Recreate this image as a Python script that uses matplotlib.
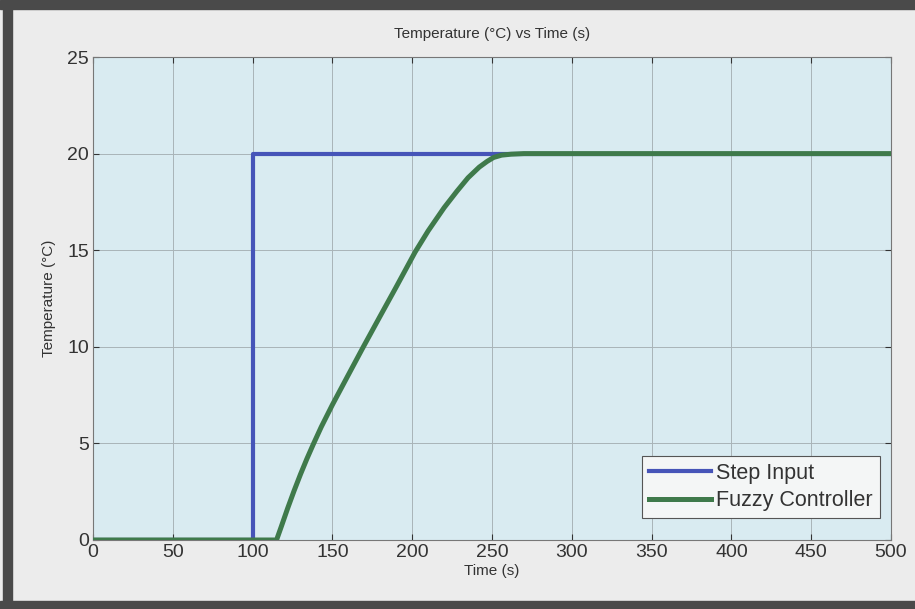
import matplotlib
matplotlib.use("Agg")
import matplotlib.pyplot as plt
from matplotlib.patches import Rectangle

# ---- data ----
step_time = [0, 100, 100, 500]
step_temp = [0, 0, 20, 20]

fuzzy_time = [0, 115, 118, 122, 126, 130, 134, 138, 143, 150, 160, 169.4, 180, 190,
              201.8, 210, 220, 228, 235, 242, 247, 251, 256, 262, 270, 280, 300, 500]
fuzzy_temp = [0, 0, 0.7, 1.65, 2.55, 3.4, 4.2, 4.95, 5.85, 7.0, 8.55, 10.0, 11.6, 13.1,
              14.9, 16.0, 17.2, 18.05, 18.75, 19.3, 19.6, 19.8, 19.92, 19.97, 20.0, 20.0, 20.0, 20.0]

x_ticks = [0, 50, 100, 150, 200, 250, 300, 350, 400, 450, 500]
y_ticks = [0, 5, 10, 15, 20, 25]

title = "Temperature (°C) vs Time (s)"
xlabel = "Time (s)"
ylabel = "Temperature (°C)"
labels = ["Step Input", "Fuzzy Controller"]

plt.rcParams['font.family'] = ['Liberation Sans', 'DejaVu Sans']

fig = plt.figure(figsize=(9.15, 6.09), dpi=100, facecolor='#ececec')
# scanned frame border
fig.patches.append(Rectangle((0, 1 - 9/609), 1, 9/609, transform=fig.transFigure,
                             color='#4a4a4a', zorder=0))
fig.patches.append(Rectangle((3/915, 0), 9/915, 1, transform=fig.transFigure,
                             color='#4a4a4a', zorder=0))
fig.patches.append(Rectangle((0, 0), 1, 8/609, transform=fig.transFigure,
                             color='#4a4a4a', zorder=0))

ax = fig.add_axes([93/915, 1 - 540/609, 798/915, 483/609])
ax.set_facecolor('#d9ebf1')

ax.plot(step_time, step_temp, color='#4654b8', lw=3.0, label=labels[0], zorder=3)
ax.plot(fuzzy_time, fuzzy_temp, color='#3f7a4b', lw=3.6, label=labels[1], zorder=4,
        solid_joinstyle='round')

ax.set_xlim(0, 500)
ax.set_ylim(0, 25)
ax.set_xticks(x_ticks)
ax.set_yticks(y_ticks)
ax.grid(True, color='#a9b4b8', lw=0.7)
ax.set_axisbelow(True)
ax.tick_params(direction='in', length=4, top=True, right=True, labelsize=14,
               colors='#333333', pad=3)
for s in ax.spines.values():
    s.set_color('#777777')
    s.set_linewidth(0.8)

ax.set_title(title, fontsize=11, color='#333333', pad=14)
ax.set_xlabel(xlabel, fontsize=11, color='#333333', labelpad=2)
ax.set_ylabel(ylabel, fontsize=11, color='#333333', labelpad=8)

leg = ax.legend(loc='lower right', bbox_to_anchor=(0.986, 0.0455), fontsize=15.5,
                frameon=True, fancybox=False, handlelength=2.9, handletextpad=0.25,
                borderpad=0.32, labelspacing=0.3, borderaxespad=0)
leg.get_frame().set_facecolor('#f4f6f6')
leg.get_frame().set_edgecolor('#555555')
leg.get_frame().set_linewidth(0.8)
leg.get_frame().set_alpha(1)
for t in leg.get_texts():
    t.set_color('#333333')

fig.savefig('out.png', dpi=100, facecolor=fig.get_facecolor())
